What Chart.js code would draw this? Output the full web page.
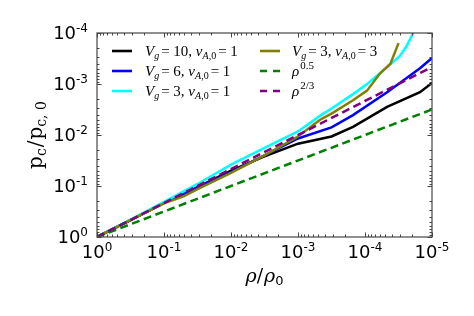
<!DOCTYPE html>
<html>
<head>
<meta charset="utf-8">
<script src="https://cdn.jsdelivr.net/npm/chart.js@4.4.0/dist/chart.umd.min.js"></script>
<style>
    html, body { margin: 0; padding: 0; background: #fff; }
    #wrap { width: 474px; height: 316px; }
</style>
</head>
<body>
<div id="wrap"><canvas id="myChart" width="474" height="316"></canvas></div>
<script>
// rho/rho0 (x) and p_c/p_c,0 (y)
var rhoBlack = [1, 0.316, 0.1, 0.0316, 0.01, 0.00316, 0.001, 3.16e-4, 1.51e-4, 4.68e-5, 1.51e-5, 1e-5];
var pBlack   = [1, 0.468, 0.214, 0.105, 0.0501, 0.0263, 0.0148, 0.0107, 0.00692, 0.00282, 0.00145, 9.55e-4];

var rhoBlue = [1, 0.316, 0.1, 0.0316, 0.01, 0.00316, 0.001, 3.16e-4, 1.51e-4, 4.68e-5, 1.51e-5, 1e-5];
var pBlue   = [1, 0.468, 0.214, 0.107, 0.0537, 0.025, 0.0117, 0.00708, 0.00407, 0.00145, 4.9e-4, 3.09e-4];

var rhoCyan = [1, 0.316, 0.1, 0.0316, 0.01, 0.00316, 0.001, 4.68e-4, 3.16e-4, 1.51e-4, 9.33e-5, 4.68e-5, 3.02e-5, 2.4e-5, 1.91e-5, 1.41e-5];
var pCyan   = [1, 0.457, 0.204, 0.0912, 0.038, 0.0178, 0.00851, 0.00417, 0.00302, 0.00158, 0.001, 4.68e-4, 2.82e-4, 1.82e-4, 1e-4, 4.47e-5];

var rhoOlive = [1, 0.316, 0.1, 0.0501, 0.0316, 0.01, 0.00316, 0.001, 4.68e-4, 3.16e-4, 1.51e-4, 9.33e-5, 6.03e-5, 5.01e-5, 4.17e-5, 3.16e-5];
var pOlive   = [1, 0.468, 0.219, 0.158, 0.115, 0.055, 0.0251, 0.0107, 0.00501, 0.0038, 0.00209, 0.00135, 6.31e-4, 5.01e-4, 3.98e-4, 1.58e-4];

var rhoRef = [1, 1e-5];
var pHalf = [1, 3.16e-3];
var pTwoThirds = [1, 4.64e-4];

var xTicks = [1, 1e-1, 1e-2, 1e-3, 1e-4, 1e-5];
var xTickExp = ['0', '-1', '-2', '-3', '-4', '-5'];
var yTicks = [1, 1e-1, 1e-2, 1e-3, 1e-4];
var yTickExp = ['0', '-1', '-2', '-3', '-4'];

function pts(xs, ys) {
    return xs.map(function(x, i) { return { x: x, y: ys[i] }; });
}

// draws a run of text pieces: {t, f, dy}
function rich(ctx, x, y, parts, measureOnly) {
    var w = 0;
    parts.forEach(function(p) {
        ctx.font = p.f;
        if (!measureOnly) ctx.fillText(p.t, x + w, y + (p.dy || 0));
        w += ctx.measureText(p.t).width + (p.sp || 0);
    });
    return w;
}

var SI = 'italic 15px "Liberation Serif"';
var SN = '15px "Liberation Serif"';
var SS = 'italic 10px "Liberation Serif"';
var SSN = '10px "Liberation Serif"';
var SUP = '11px "Liberation Serif"';

var legendItems = [
    { color: '#000000', dash: false, col: 0, row: 0, text: [{t:'V', f:SI}, {t:'g', f:SS, dy:3, sp:2}, {t:'= 10, ', f:SN}, {t:'v', f:SI}, {t:'A', f:SS, dy:3}, {t:',0', f:SSN, dy:3, sp:2}, {t:'= 1', f:SN}] },
    { color: '#0000ff', dash: false, col: 0, row: 1, text: [{t:'V', f:SI}, {t:'g', f:SS, dy:3, sp:2}, {t:'= 6, ', f:SN}, {t:'v', f:SI}, {t:'A', f:SS, dy:3}, {t:',0', f:SSN, dy:3, sp:2}, {t:'= 1', f:SN}] },
    { color: '#00ffff', dash: false, col: 0, row: 2, text: [{t:'V', f:SI}, {t:'g', f:SS, dy:3, sp:2}, {t:'= 3, ', f:SN}, {t:'v', f:SI}, {t:'A', f:SS, dy:3}, {t:',0', f:SSN, dy:3, sp:2}, {t:'= 1', f:SN}] },
    { color: '#808000', dash: false, col: 1, row: 0, text: [{t:'V', f:SI}, {t:'g', f:SS, dy:3, sp:2}, {t:'= 3, ', f:SN}, {t:'v', f:SI}, {t:'A', f:SS, dy:3}, {t:',0', f:SSN, dy:3, sp:2}, {t:'= 3', f:SN}] },
    { color: '#008000', dash: true, col: 1, row: 1, text: [{t:'\u03c1', f:SI, sp:1}, {t:'0.5', f:SUP, dy:-7}] },
    { color: '#800080', dash: true, col: 1, row: 2, text: [{t:'\u03c1', f:SI, sp:1}, {t:'2/3', f:SUP, dy:-7}] }
];

const decor = {
    id: 'decor',
    afterDatasetsDraw: function(chart) {
        const ctx = chart.ctx;
        const a = chart.chartArea;
        const xs = chart.scales.x, ys = chart.scales.y;
        ctx.save();

        // frame
        ctx.strokeStyle = '#555';
        ctx.lineWidth = 1.3;
        ctx.strokeRect(a.left, a.top, a.right - a.left, a.bottom - a.top);

        // ticks (inward, all sides)
        ctx.lineWidth = 1;
        ctx.strokeStyle = '#444';
        ctx.beginPath();
        for (let k = 0; k >= -5; k--) {
            for (let m = 1; m <= 9; m++) {
                const v = m * Math.pow(10, k);
                const len = m == 1 ? 4.5 : 2.5;
                if (v >= 1e-5 && v <= 1) {
                    const px = Math.round(xs.getPixelForValue(v)) + 0.5;
                    ctx.moveTo(px, a.bottom); ctx.lineTo(px, a.bottom - len);
                    ctx.moveTo(px, a.top); ctx.lineTo(px, a.top + len);
                }
                if (v >= 1e-4 && v <= 1) {
                    const py = Math.round(ys.getPixelForValue(v)) + 0.5;
                    ctx.moveTo(a.left, py); ctx.lineTo(a.left + len, py);
                    ctx.moveTo(a.right, py); ctx.lineTo(a.right - len, py);
                }
            }
        }
        ctx.stroke();

        // tick labels
        ctx.fillStyle = '#000';
        ctx.textBaseline = 'alphabetic';
        const big = '18px "DejaVu Sans"', sup = '12px "DejaVu Sans"';
        xTicks.forEach(function(v, i) {
            const parts = [{t:'10', f:big}, {t:xTickExp[i], f:sup, dy:-7}];
            const w = rich(ctx, 0, 0, parts, true);
            rich(ctx, xs.getPixelForValue(v) - w / 2, 258, parts);
        });
        yTicks.forEach(function(v, i) {
            const parts = [{t:'10', f:big}, {t:yTickExp[i], f:sup, dy:-7}];
            const w = rich(ctx, 0, 0, parts, true);
            rich(ctx, 88 - w, ys.getPixelForValue(v) + 6, parts);
        });

        // axis titles
        const xt = [{t:'\u03c1', f:'italic 19px "DejaVu Serif"'}, {t:'/', f:'19px "DejaVu Serif"', sp:1}, {t:'\u03c1', f:'italic 19px "DejaVu Serif"'}, {t:'0', f:'13px "DejaVu Sans"', dy:3}];
        const xw = rich(ctx, 0, 0, xt, true);
        rich(ctx, (a.left + a.right) / 2 - xw / 2, 282, xt);

        const yt = [{t:'p', f:'20px "DejaVu Serif"'}, {t:'c', f:'14px "DejaVu Serif"', dy:4, sp:1}, {t:'/', f:'20px "DejaVu Serif"', sp:1},
                    {t:'p', f:'20px "DejaVu Serif"'}, {t:'c', f:'14px "DejaVu Serif"', dy:4}, {t:', ', f:'14px "DejaVu Serif"', dy:4}, {t:'0', f:'14px "DejaVu Serif"', dy:4}];
        const yw = rich(ctx, 0, 0, yt, true);
        ctx.save();
        ctx.translate(42, (a.top + a.bottom) / 2);
        ctx.rotate(-Math.PI / 2);
        rich(ctx, -yw / 2, 0, yt);
        ctx.restore();

        // legend, two columns inside the axes
        legendItems.forEach(function(it) {
            const hx = it.col == 0 ? 112 : 260;
            const tx = it.col == 0 ? 145 : 292;
            const ry = 51 + it.row * 20;
            ctx.strokeStyle = it.color;
            ctx.lineWidth = 2.6;
            ctx.setLineDash(it.dash ? [7, 6] : []);
            ctx.beginPath();
            ctx.moveTo(hx, ry); ctx.lineTo(hx + 20, ry);
            ctx.stroke();
            ctx.setLineDash([]);
            ctx.fillStyle = '#000';
            rich(ctx, tx, ry + 5, it.text);
        });
        ctx.restore();
    }
};

const ctx = document.getElementById('myChart').getContext('2d');
const myChart = new Chart(ctx, {
    type: 'line',
    data: {
        datasets: [{
            label: 'Vg=10, vA0=1', data: pts(rhoBlack, pBlack),
            borderColor: '#000000', order: 5
        }, {
            label: 'Vg=6, vA0=1', data: pts(rhoBlue, pBlue),
            borderColor: '#0000ff', order: 4
        }, {
            label: 'Vg=3, vA0=1', data: pts(rhoCyan, pCyan),
            borderColor: '#00ffff', order: 3
        }, {
            label: 'Vg=3, vA0=3', data: pts(rhoOlive, pOlive),
            borderColor: '#808000', order: 2
        }, {
            label: 'rho^0.5', data: pts(rhoRef, pHalf),
            borderColor: '#008000', borderDash: [8, 4.5], order: 1
        }, {
            label: 'rho^2/3', data: pts(rhoRef, pTwoThirds),
            borderColor: '#800080', borderDash: [8, 4.5], order: 0
        }]
    },
    options: {
        responsive: false,
        animation: false,
        events: [],
        layout: { padding: { left: 97, right: 42, top: 33, bottom: 79 } },
        elements: {
            point: { radius: 0 },
            line: { borderWidth: 2.5, tension: 0, fill: false, borderCapStyle: 'butt' }
        },
        plugins: {
            legend: { display: false },
            tooltip: { enabled: false }
        },
        scales: {
            x: { type: 'logarithmic', min: 1e-5, max: 1, reverse: true, display: false },
            y: { type: 'logarithmic', min: 1e-4, max: 1, reverse: true, display: false }
        }
    },
    plugins: [decor]
});
</script>
</body>
</html>
